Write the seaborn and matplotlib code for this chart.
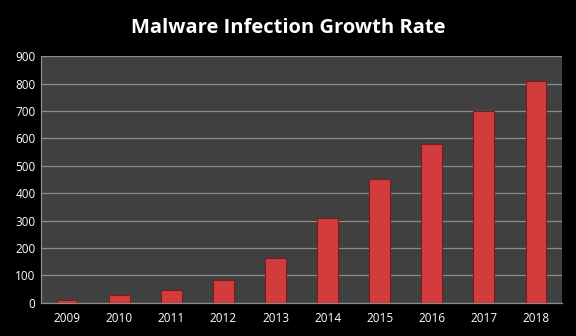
import matplotlib
matplotlib.use("Agg")
import matplotlib.pyplot as plt
import seaborn as sns
import numpy as np
import pandas as pd

years = ["2009", "2010", "2011", "2012", "2013", "2014", "2015", "2016", "2017", "2018"]
infections = [10, 28, 47, 83, 164, 309, 452, 580, 700, 810]
y_ticks = [0, 100, 200, 300, 400, 500, 600, 700, 800, 900]

sns.set_theme(style="dark")
plt.rcParams['font.family'] = ['Open Sans', 'DejaVu Sans']

df = pd.DataFrame({"year": years, "value": infections})

fig = plt.figure(figsize=(5.76, 3.36), dpi=100, facecolor="black")
ax = fig.add_axes([0.0712, 0.099, 0.9045, 0.734])
ax.set_facecolor("#404040")

sns.barplot(data=df, x="year", y="value", ax=ax, color="#d23c3c",
            saturation=1, width=0.4, edgecolor="#7a1c1c", linewidth=0.8, zorder=3)

ax.set_ylim(0, 900)
ax.set_xlim(-0.5, len(years) - 0.5)
ax.set_yticks(y_ticks)
ax.set_yticklabels([str(v) for v in y_ticks])
ax.yaxis.grid(True, color="#8c8c8c", linewidth=0.9, zorder=0)
ax.xaxis.grid(False)
ax.set_xlabel("")
ax.set_ylabel("")

ax.tick_params(axis="both", colors="white", labelsize=8.5)
ax.tick_params(axis="x", which="major", length=0, pad=7)
ax.tick_params(axis="y", which="major", length=0, pad=4)
ax.set_xticks(np.arange(-0.5, len(years)), minor=True)
ax.tick_params(axis="x", which="minor", length=4, color="#8c8c8c", width=0.9, direction="out")

for s in ["top", "right"]:
    ax.spines[s].set_visible(False)
for s in ["left", "bottom"]:
    ax.spines[s].set_visible(True)
    ax.spines[s].set_color("#8c8c8c")
    ax.spines[s].set_linewidth(0.9)

fig.text(0.5, 0.918, "Malware Infection Growth Rate", color="white",
         fontsize=14.5, fontweight="bold", ha="center", va="center")

fig.savefig("out.png", dpi=100, facecolor="black")
